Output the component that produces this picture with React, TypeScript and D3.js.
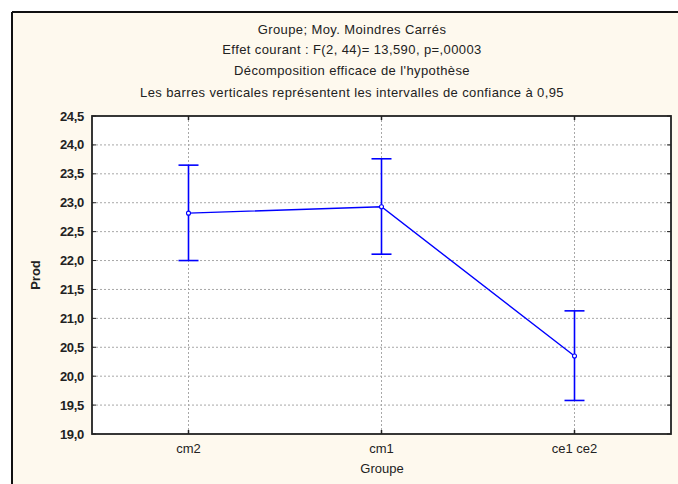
import React from "react";
import * as d3 from "d3";

const titleLines = [
  "Groupe; Moy. Moindres Carrés",
  "Effet courant : F(2, 44)= 13,590, p=,00003",
  "Décomposition efficace de l'hypothèse",
  "Les barres verticales représentent les intervalles de confiance à 0,95",
];
const categories = ["cm2", "cm1", "ce1 ce2"];
const means = [22.82, 22.93, 20.35];
const upper = [23.65, 23.76, 21.13];
const lower = [22.0, 22.11, 19.58];
const yTicks = [19.0, 19.5, 20.0, 20.5, 21.0, 21.5, 22.0, 22.5, 23.0, 23.5, 24.0, 24.5];
const xTitle = "Groupe";
const yTitle = "Prod";

const W = 678;
const H = 484;
const L = 92, R = 671, T = 116, B = 434;
const FONT = "Liberation Sans, Arial, sans-serif";
const BLUE = "#0000ff";

export default function App() {
  const x = d3.scalePoint<string>().domain(categories).range([L, R]).padding(0.5);
  const y = d3.scaleLinear().domain([19, 24.5]).range([B, T]);
  const fmt = (v: number) => v.toFixed(1).replace(".", ",");
  const line = d3
    .line<number>()
    .x((_, i) => x(categories[i]) as number)
    .y((d) => y(d));
  const cx = 352;
  return (
    <svg width={W} height={H} style={{ position: "absolute", left: 0, top: 0 }} fontFamily={FONT}>
      <rect x={0} y={0} width={W} height={H} fill="#ffffff" />
      <rect x={12} y={12} width={W - 12} height={H - 12} fill="#fef9ee" />
      <line x1={12} y1={12} x2={W} y2={12} stroke="#111" strokeWidth={2} />
      <line x1={12} y1={12} x2={12} y2={H} stroke="#111" strokeWidth={2} />
      {titleLines.map((t, i) => (
        <text key={i} x={cx} y={[34, 54, 75, 97][i]} textAnchor="middle" fontSize={13} fill="#222" letterSpacing={0.4}>
          {t}
        </text>
      ))}
      <rect x={L} y={T} width={R - L} height={B - T} fill="#ffffff" />
      {yTicks.filter((v) => v > 19 && v < 24.5).map((v) => (
        <line key={"g" + v} x1={L} x2={R} y1={y(v)} y2={y(v)} stroke="#a8a8a8" strokeWidth={1} strokeDasharray="2,2" />
      ))}
      {categories.map((c) => (
        <line key={"gx" + c} x1={x(c)} x2={x(c)} y1={T} y2={B} stroke="#a8a8a8" strokeWidth={1} strokeDasharray="2,2" />
      ))}
      {yTicks.map((v) => (
        <g key={"t" + v}>
          <line x1={L} x2={L + 4} y1={y(v)} y2={y(v)} stroke="#222" strokeWidth={1} />
          <line x1={R - 4} x2={R} y1={y(v)} y2={y(v)} stroke="#222" strokeWidth={1} />
          <text x={L - 8} y={y(v) + 4.5} textAnchor="end" fontSize={13} fill="#222" fontWeight="bold" letterSpacing={-0.3}>
            {fmt(v)}
          </text>
        </g>
      ))}
      {categories.map((c) => (
        <g key={"xt" + c}>
          <line x1={x(c)} x2={x(c)} y1={B - 4} y2={B} stroke="#222" strokeWidth={1.5} />
          <line x1={x(c)} x2={x(c)} y1={T} y2={T + 4} stroke="#222" strokeWidth={1.5} />
          <text x={x(c)} y={453} textAnchor="middle" fontSize={13} fill="#222">
            {c}
          </text>
        </g>
      ))}
      <text x={382} y={473} textAnchor="middle" fontSize={13} fill="#222">
        {xTitle}
      </text>
      <text transform={`translate(40,${(T + B) / 2}) rotate(-90)`} textAnchor="middle" fontSize={13} fontWeight="bold" fill="#222">
        {yTitle}
      </text>
      <rect x={L} y={T} width={R - L} height={B - T} fill="none" stroke="#222" strokeWidth={1.8} />
      <path d={line(means) || ""} fill="none" stroke={BLUE} strokeWidth={1.4} />
      {categories.map((c, i) => {
        const px = x(c) as number;
        return (
          <g key={"e" + c} stroke={BLUE} strokeWidth={1.6}>
            <line x1={px} x2={px} y1={y(upper[i])} y2={y(lower[i])} />
            <line x1={px - 10} x2={px + 10} y1={y(upper[i])} y2={y(upper[i])} />
            <line x1={px - 10} x2={px + 10} y1={y(lower[i])} y2={y(lower[i])} />
            <circle cx={px} cy={y(means[i])} r={2} fill="#fff" strokeWidth={1.1} />
          </g>
        );
      })}
    </svg>
  );
}
